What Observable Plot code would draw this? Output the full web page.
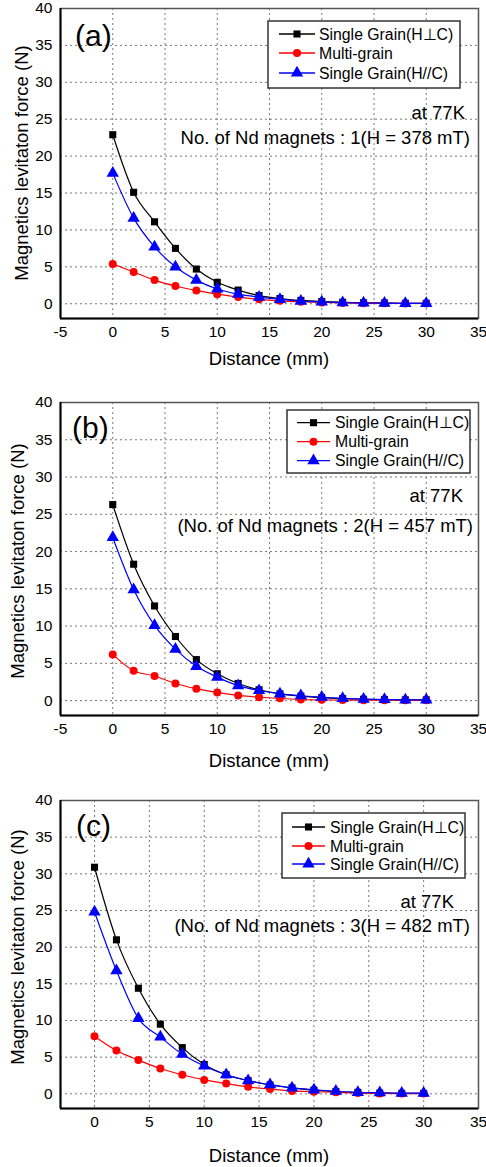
<!DOCTYPE html>
<html>
<head>
<meta charset="utf-8">
<script src="https://cdn.jsdelivr.net/npm/d3@7"></script>
<script src="https://cdn.jsdelivr.net/npm/@observablehq/plot@0.6"></script>
<style>
  html, body { margin: 0; padding: 0; background: #fff; }
  #chart { width: 486px; }
  #chart svg { display: block; }
</style>
</head>
<body>
<div id="chart"></div>
<script>
// ---------- data ----------
const distance = [0, 2, 4, 6, 8, 10, 12, 14, 16, 18, 20, 22, 24, 26, 28, 30];

const perpA  = [22.9, 15.1, 11.1, 7.5, 4.7, 2.9, 1.85, 1.1, 0.7, 0.45, 0.3, 0.2, 0.13, 0.1, 0.06, 0.06];
const multiA = [5.4, 4.3, 3.2, 2.4, 1.8, 1.3, 0.9, 0.6, 0.4, 0.27, 0.18, 0.1, 0.07, 0.05, 0.04, 0.04];
const parA   = [17.7, 11.6, 7.7, 5.0, 3.2, 2.0, 1.3, 0.9, 0.6, 0.35, 0.25, 0.15, 0.1, 0.07, 0.05, 0.05];

const perpB  = [26.3, 18.3, 12.7, 8.6, 5.5, 3.6, 2.3, 1.45, 0.9, 0.6, 0.4, 0.27, 0.18, 0.13, 0.1, 0.1];
const multiB = [6.2, 4.0, 3.3, 2.3, 1.6, 1.1, 0.7, 0.45, 0.3, 0.15, 0.1, 0.07, 0.05, 0.05, 0.04, 0.04];
const parB   = [21.9, 14.9, 10.1, 6.9, 4.6, 3.15, 2.0, 1.35, 0.9, 0.65, 0.45, 0.3, 0.2, 0.15, 0.1, 0.1];

const perpC  = [30.9, 21.0, 14.4, 9.5, 6.3, 4.0, 2.6, 1.8, 1.2, 0.8, 0.5, 0.3, 0.2, 0.1, 0.06, 0.06];
const multiC = [7.85, 5.9, 4.6, 3.45, 2.6, 1.9, 1.4, 0.95, 0.65, 0.4, 0.3, 0.2, 0.1, 0.05, 0.04, 0.04];
const parC   = [24.8, 16.8, 10.3, 7.75, 5.4, 3.8, 2.6, 1.8, 1.25, 0.8, 0.55, 0.35, 0.2, 0.15, 0.1, 0.1];

const seriesNames = ["Single Grain(H\u22A5C)", "Multi-grain", "Single Grain(H//C)"];
const seriesColors = ["#000000", "#ff0000", "#0000ff"];
const seriesSymbols = ["square", "circle", "triangle"];

const panelLabels = ["(a)", "(b)", "(c)"];
const tempLabel = "at 77K";
const magnetLabels = [
  "No. of Nd magnets : 1(H = 378 mT)",
  "(No. of Nd magnets : 2(H = 457 mT)",
  "(No. of Nd magnets : 3(H = 482 mT)"
];
const xTitle = "Distance (mm)";
const yTitle = "Magnetics levitaton force (N)";

const xTicksAB = [-5, 0, 5, 10, 15, 20, 25, 30, 35];
const xTicksC = [0, 5, 10, 15, 20, 25, 30, 35];
const yTicks = [0, 5, 10, 15, 20, 25, 30, 35, 40];

// ---------- layout ----------
const FONT = "'Liberation Sans', Arial, Helvetica, sans-serif";
const panels = [
  { values: [perpA, multiA, parA], label: panelLabels[0], magnet: magnetLabels[0],
    height: 370, mt: 8, mb: 52, xDomain: [-5, 35], xTicks: xTicksAB,
    labelPos: [75, 46], tempPos: [465, 118.5], magPos: [470, 143.5],
    yTitleX: 28, yTitleY: 163, xTitleY: 364.5,
    legend: { x0: 268, x1: 460, y0: 21, y1: 88, rows: [34, 53, 73], l0: 279, l1: 315, tx: 319 } },
  { values: [perpB, multiB, parB], label: panelLabels[1], magnet: magnetLabels[1],
    height: 400, mt: 32, mb: 55, xDomain: [-5, 35], xTicks: xTicksAB,
    labelPos: [72, 68], tempPos: [463, 131.5], magPos: [473, 161.5],
    yTitleX: 24, yTitleY: 191, xTitleY: 396.5,
    legend: { x0: 287, x1: 470, y0: 40, y1: 103, rows: [52.7, 71.7, 90.7], l0: 297, l1: 330, tx: 335 } },
  { values: [perpC, multiC, parC], label: panelLabels[2], magnet: magnetLabels[2],
    height: 397, mt: 30, mb: 59, xDomain: [-3.1, 35], xTicks: xTicksC,
    labelPos: [76, 66], tempPos: [454, 137.5], magPos: [470, 161.5],
    yTitleX: 24, yTitleY: 177, xTitleY: 391.5,
    legend: { x0: 282, x1: 465, y0: 43, y1: 108, rows: [57, 76, 94], l0: 292, l1: 325, tx: 330 } }
];

const W = 486, ML = 60, MR = 8;
const R = 4;
const d3Symbols = { square: d3.symbolSquare, circle: d3.symbolCircle, triangle: d3.symbolTriangle };
const plainFormat = d => String(d);

const container = document.getElementById("chart");

panels.forEach(p => {
  const rows = [];
  p.values.forEach((vals, si) => {
    vals.forEach((v, i) => rows.push({ series: seriesNames[si], si, x: distance[i], y: v }));
  });
  const marks = [
    Plot.gridX(p.xTicks, { stroke: "#777", strokeOpacity: 1, strokeWidth: 1, strokeDasharray: "2,3" }),
    Plot.gridY(yTicks, { stroke: "#777", strokeOpacity: 1, strokeWidth: 1, strokeDasharray: "2,3" }),
    Plot.frame({ stroke: "#555", strokeWidth: 1.5 }),
    Plot.ruleX([p.xDomain[0]], { stroke: "#000", strokeWidth: 2 }),
    Plot.ruleY([-2], { stroke: "#000", strokeWidth: 2 }),
    Plot.axisX(p.xTicks, { tickSize: 0, tickPadding: 7, label: null, fontSize: 15.5, tickFormat: plainFormat }),
    Plot.axisY(yTicks, { tickSize: 0, tickPadding: 8, label: null, fontSize: 15.5, tickFormat: plainFormat })
  ];
  [0, 1, 2].forEach(si => {
    const d = rows.filter(r => r.si === si);
    marks.push(Plot.line(d, { x: "x", y: "y", stroke: seriesColors[si], strokeWidth: 1.2, curve: "monotone-x" }));
    marks.push(Plot.dot(d, { x: "x", y: "y", symbol: () => seriesSymbols[si], fill: seriesColors[si], stroke: "none", r: si === 2 ? 4.6 : R }));
  });

  const svgPlot = Plot.plot({
    width: W,
    height: p.height,
    marginTop: p.mt,
    marginBottom: p.mb,
    marginLeft: ML,
    marginRight: MR,
    style: { fontFamily: FONT, fontSize: "15px", color: "#000", background: "#fff", overflow: "visible" },
    x: { domain: p.xDomain },
    y: { domain: [-2, 40] },
    symbol: { type: "identity" },
    marks
  });
  container.appendChild(svgPlot);

  const svg = d3.select(svgPlot);
  const g = svg.append("g").attr("font-family", FONT).attr("fill", "#000").attr("text-anchor", "start");

  g.append("text").attr("x", p.labelPos[0]).attr("y", p.labelPos[1])
    .attr("text-anchor", "start").attr("font-size", 30).text(p.label);

  g.append("text").attr("x", p.tempPos[0]).attr("y", p.tempPos[1])
    .attr("text-anchor", "end").attr("font-size", 18.5).text(tempLabel);
  g.append("text").attr("x", p.magPos[0]).attr("y", p.magPos[1])
    .attr("text-anchor", "end").attr("font-size", 18.5).text(p.magnet);

  g.append("text").attr("x", (ML + (W - MR)) / 2).attr("y", p.xTitleY)
    .attr("text-anchor", "middle").attr("font-size", 18.5).text(xTitle);
  g.append("text")
    .attr("transform", `translate(${p.yTitleX},${p.yTitleY}) rotate(-90)`)
    .attr("text-anchor", "middle").attr("font-size", 18.5).text(yTitle);

  const L = p.legend;
  g.append("rect").attr("x", L.x0).attr("y", L.y0).attr("width", L.x1 - L.x0).attr("height", L.y1 - L.y0)
    .attr("fill", "#fff").attr("stroke", "#333").attr("stroke-width", 1.5);
  seriesNames.forEach((name, si) => {
    const yy = L.rows[si];
    g.append("line").attr("x1", L.l0).attr("x2", L.l1).attr("y1", yy).attr("y2", yy)
      .attr("stroke", seriesColors[si]).attr("stroke-width", 1.3);
    const rr = si === 2 ? 4.6 : R;
    g.append("path")
      .attr("d", d3.symbol().type(d3Symbols[seriesSymbols[si]]).size(Math.PI * rr * rr)())
      .attr("transform", `translate(${(L.l0 + L.l1) / 2},${yy})`)
      .attr("fill", seriesColors[si]);
    g.append("text").attr("x", L.tx).attr("y", yy + 5.6)
      .attr("text-anchor", "start").attr("font-size", 15.8).text(name);
  });
});
</script>
</body>
</html>
